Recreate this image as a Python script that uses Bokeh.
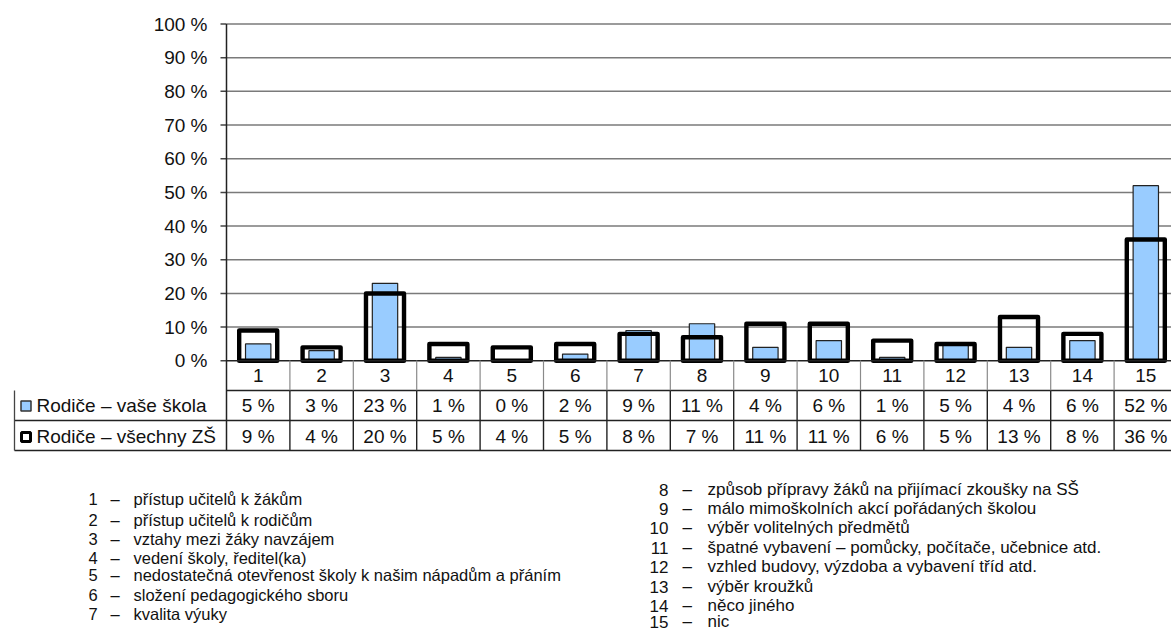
from bokeh.plotting import figure
from bokeh.models import Range1d
from bokeh.core.properties import value
from bokeh.embed import file_html
from bokeh.resources import INLINE

# ---------------- data ----------------
categories = list(range(1, 16))
series_names = ["Rodiče – vaše škola", "Rodiče – všechny ZŠ"]
school = [5, 3, 23, 1, 0, 2, 9, 11, 4, 6, 1, 5, 4, 6, 52]
all_schools = [9, 4, 20, 5, 4, 5, 8, 7, 11, 11, 6, 5, 13, 8, 36]
y_ticks = [0, 10, 20, 30, 40, 50, 60, 70, 80, 90, 100]
y_tick_labels = [f"{t} %" for t in y_ticks]
descriptions = [
    "přístup učitelů k žákům",
    "přístup učitelů k rodičům",
    "vztahy mezi žáky navzájem",
    "vedení školy, ředitel(ka)",
    "nedostatečná otevřenost školy k našim nápadům a přáním",
    "složení pedagogického sboru",
    "kvalita výuky",
    "způsob přípravy žáků na přijímací zkoušky na SŠ",
    "málo mimoškolních akcí pořádaných školou",
    "výběr volitelných předmětů",
    "špatné vybavení – pomůcky, počítače, učebnice atd.",
    "vzhled budovy, výzdoba a vybavení tříd atd.",
    "výběr kroužků",
    "něco jiného",
    "nic",
]

# ---------------- layout (pixels) ----------------
W, H = 1171, 633
OFF = 0
FONT = value("Liberation Sans")
BLUE = "#99CCFF"

plot_left = 226 - OFF        # x of value axis
cat_w = 63.4                 # width of one category
y0_px = 360.3 - OFF          # y pixel of 0 %
px_per_pct = 3.368

p = figure(width=W, height=H, x_range=Range1d(0, W), y_range=Range1d(H, 0),
           output_backend="svg", toolbar_location=None, min_border=0,
           x_axis_location=None, y_axis_location=None)
p.grid.visible = False
p.outline_line_color = None
p.background_fill_color = "white"

# category scale and percent scale mapped onto the pixel frame
cat_start = 0.5 - plot_left / cat_w
cat_end = 0.5 + (W - plot_left) / cat_w
p.extra_x_ranges = {"cat": Range1d(cat_start, cat_end)}
pct_top = y0_px / px_per_pct
pct_bottom = (y0_px - H) / px_per_pct
p.extra_y_ranges = {"pct": Range1d(pct_bottom, pct_top)}

# grid lines and value axis
p.segment(x0=[plot_left] * len(y_ticks[1:]), x1=[W] * len(y_ticks[1:]),
          y0=y_ticks[1:], y1=y_ticks[1:], y_range_name="pct",
          line_color="#7a7a7a", line_width=1.5)
p.segment(x0=[plot_left - 6] * len(y_ticks), x1=[plot_left] * len(y_ticks),
          y0=y_ticks, y1=y_ticks, y_range_name="pct",
          line_color="#444444", line_width=1.5)
p.text(x=[plot_left - 19] * len(y_ticks), y=y_ticks, text=y_tick_labels,
       y_range_name="pct", text_font=FONT, text_font_size="19px",
       text_align="right", text_baseline="middle", text_color="#111111")

# bars
p.vbar(x=categories, top=school, bottom=0, width=0.4, x_range_name="cat",
       y_range_name="pct", fill_color=BLUE, line_color="#222222", line_width=1.2)
p.vbar(x=categories, top=all_schools, bottom=0, width=0.6, x_range_name="cat",
       y_range_name="pct", fill_alpha=0, line_color="black", line_width=4.4,
       line_join="round")

# ---------------- data table ----------------
row_y = [360 - OFF, 390 - OFF, 420 - OFF, 450 - OFF]
tbl_left = 14 - OFF
p.segment(x0=[plot_left, tbl_left, tbl_left], x1=[W, W, W],
          y0=row_y[1:], y1=row_y[1:], line_color="#222222", line_width=1.3)
p.segment(x0=[plot_left], x1=[W], y0=[0], y1=[0], y_range_name="pct",
          line_color="#222222", line_width=1.5)
p.segment(x0=[plot_left], x1=[plot_left], y0=[23.5 - OFF], y1=[row_y[3]],
          line_color="#222222", line_width=1.5)
p.segment(x0=[tbl_left], x1=[tbl_left], y0=[row_y[1]], y1=[row_y[3]],
          line_color="#444444", line_width=1.3)
bounds = [c + 0.5 for c in categories]
p.segment(x0=bounds, x1=bounds, y0=[row_y[0]] * len(bounds), y1=[row_y[1]] * len(bounds),
          x_range_name="cat", line_color="#8a8a8a", line_width=1.2)
p.segment(x0=bounds, x1=bounds, y0=[row_y[1]] * len(bounds), y1=[row_y[3]] * len(bounds),
          x_range_name="cat", line_color="#222222", line_width=1.4)

p.text(x=categories, y=[375 - OFF] * 15, text=[str(c) for c in categories],
       x_range_name="cat", text_font=FONT, text_font_size="19px",
       text_align="center", text_baseline="middle", text_color="#111111")
p.text(x=categories, y=[405 - OFF] * 15, text=[f"{v} %" for v in school],
       x_range_name="cat", text_font=FONT, text_font_size="19px",
       text_align="center", text_baseline="middle", text_color="#111111")
p.text(x=categories, y=[436 - OFF] * 15, text=[f"{v} %" for v in all_schools],
       x_range_name="cat", text_font=FONT, text_font_size="19px",
       text_align="center", text_baseline="middle", text_color="#111111")

p.rect(x=[25.5 - OFF], y=[405.5 - OFF], width=10, height=10,
       fill_color=BLUE, line_color="#333333", line_width=1.5)
p.rect(x=[25.5 - OFF], y=[436.5 - OFF], width=9, height=9,
       fill_color="white", line_color="black", line_width=3)
p.text(x=[36 - OFF, 36 - OFF], y=[405 - OFF, 436 - OFF], text=series_names,
       text_font=FONT, text_font_size="19px", text_align="left",
       text_baseline="middle", text_color="#111111")

# ---------------- bottom description list ----------------
left_y = [498, 519, 538, 557, 574, 594, 613]
right_y = [489, 508, 527, 547, 566, 586, 605, 621]
left_n = categories[:7]
right_n = categories[7:]

p.text(x=[88 - OFF] * 7, y=[v - OFF for v in left_y], text=[str(n) for n in left_n],
       text_font=FONT, text_font_size="16.5px", text_align="left", text_baseline="middle",
       text_color="#111111")
p.text(x=[110 - OFF] * 7, y=[v - OFF for v in left_y], text=["–"] * 7,
       text_font=FONT, text_font_size="16.5px", text_align="left", text_baseline="middle",
       text_color="#111111")
p.text(x=[133 - OFF] * 7, y=[v - OFF for v in left_y], text=descriptions[:7],
       text_font=FONT, text_font_size="16.5px", text_align="left", text_baseline="middle",
       text_color="#111111")

p.text(x=[668 - OFF] * 8, y=[v - OFF for v in right_y], text=[str(n) for n in right_n],
       text_font=FONT, text_font_size="17px", text_align="right", text_baseline="middle",
       text_color="#111111")
p.text(x=[682 - OFF] * 8, y=[v - OFF for v in right_y], text=["–"] * 8,
       text_font=FONT, text_font_size="17px", text_align="left", text_baseline="middle",
       text_color="#111111")
p.text(x=[707 - OFF] * 8, y=[v - OFF for v in right_y], text=descriptions[7:],
       text_font=FONT, text_font_size="17px", text_align="left", text_baseline="middle",
       text_color="#111111")

open("out.html", "w").write(file_html(p, INLINE))
